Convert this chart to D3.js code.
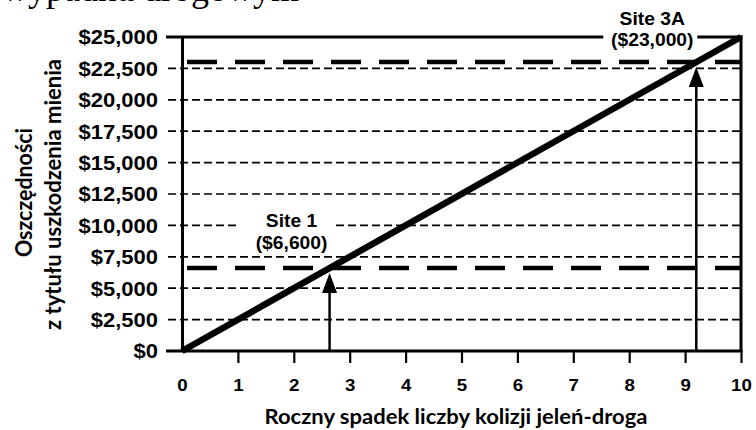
<!DOCTYPE html>
<html><head><meta charset="utf-8">
<script src="https://cdn.jsdelivr.net/npm/d3@7"></script>
<style>body{margin:0;background:#fff}svg{display:block}</style>
</head><body>
<svg id="c" width="756" height="430"></svg>
<script>
// ---- data ----
const collisionTicks = [0,1,2,3,4,5,6,7,8,9,10];
const savingsTicks = [0,2500,5000,7500,10000,12500,15000,17500,20000,22500,25000];
const savingsLineX = [0,10];
const savingsLineY = [0,25000];
const siteNames = ["Site 1","Site 3A"];
const siteLabels = ["($6,600)","($23,000)"];
const siteCollisions = [2.64, 9.2];
const siteSavings = [6600, 23000];
const xTitle = "Roczny spadek liczby kolizji jeleń-droga";
const yTitle = ["Oszczędności","z tytułu uszkodzenia mienia"];
const headerText = "wypadku drogowym";

// ---- layout ----
const svg = d3.select("#c");
const x = d3.scaleLinear().domain([0,10]).range([182,741]);
const y = d3.scaleLinear().domain([0,25000]).range([351,37]);
const SANS = "'Liberation Sans', Arial, Helvetica, sans-serif";
const TITLE = "Lato, 'Open Sans', sans-serif";
function stretch(sel,k){sel.each(function(){const w=this.getComputedTextLength();this.setAttribute("textLength",w*k);this.setAttribute("lengthAdjust","spacingAndGlyphs");});}

// header fragment (cut off at top)
svg.append("text").attr("x",2).attr("y",0.5)
  .attr("font-family","'Liberation Serif','Times New Roman',serif").attr("font-size",36).attr("fill","#000")
  .text(headerText);

// thin dashed gridlines
svg.append("g").selectAll("line").data(savingsTicks.filter(v=>v>0&&v<25000)).join("line")
  .attr("x1",168).attr("x2",x(10)).attr("y1",d=>y(d)).attr("y2",d=>y(d))
  .attr("stroke","#000").attr("stroke-width",1.7).attr("stroke-dasharray","8,4");
// solid top / bottom lines
svg.append("g").selectAll("line").data([savingsTicks[0],savingsTicks[savingsTicks.length-1]]).join("line")
  .attr("x1",166).attr("x2",x(10)+1.5).attr("y1",d=>y(d)).attr("y2",d=>y(d))
  .attr("stroke","#000").attr("stroke-width",3);
// right border
svg.append("line").attr("x1",x(10)).attr("x2",x(10)).attr("y1",y(25000)-1.5).attr("y2",y(0))
  .attr("stroke","#000").attr("stroke-width",3);

// thick dashed site levels
svg.append("g").selectAll("line").data(siteSavings).join("line")
  .attr("x1",x(0)+5).attr("x2",x(10)).attr("y1",d=>y(d)).attr("y2",d=>y(d))
  .attr("stroke","#000").attr("stroke-width",4.5).attr("stroke-dasharray","30,18");

// savings line
const pts = savingsLineX.map((v,i)=>[v,savingsLineY[i]]);
svg.append("path").datum(pts)
  .attr("d",d3.line().x(d=>x(d[0])).y(d=>y(d[1])))
  .attr("fill","none").attr("stroke","#000").attr("stroke-width",6.5);

// arrows
siteCollisions.forEach((c,i)=>{
  const ax=x(c), tip=y(siteSavings[i])+5;
  svg.append("line").attr("x1",ax).attr("x2",ax).attr("y1",y(0)).attr("y2",tip+18)
    .attr("stroke","#000").attr("stroke-width",2.5);
  svg.append("path").attr("d",`M${ax},${tip}L${ax+7.5},${tip+20}L${ax-7.5},${tip+20}Z`).attr("fill","#000");
});

// y axis
const gy = svg.append("g").attr("transform",`translate(${x(0)},0)`)
  .call(d3.axisLeft(y).tickValues(savingsTicks).tickSize(0).tickPadding(x(0)-158)
    .tickFormat(d=>"$"+d3.format(",")(d)));
gy.select(".domain").attr("stroke","#000").attr("stroke-width",3);
gy.selectAll("text").attr("font-family",SANS).attr("font-weight","bold").attr("font-size",20).attr("dy","0.34em").attr("fill","#000");
stretch(gy.selectAll("text"),1.1);

// x axis
const gx = svg.append("g").attr("transform",`translate(0,${y(0)})`)
  .call(d3.axisBottom(x).tickValues(collisionTicks).tickSize(12).tickSizeOuter(0).tickPadding(16));
gx.select(".domain").remove();
gx.selectAll(".tick line").attr("stroke","#000").attr("stroke-width",2.2).filter(d=>d===0).remove();
gx.selectAll("text").attr("font-family",SANS).attr("font-weight","bold").attr("font-size",17).attr("fill","#000");
stretch(gx.selectAll("text"),1.1);

// site labels
const labelLayout = [{dx:-38, y1:-41, y2:-19, box:[-90,-57,5,-14]}, {dx:-44, y1:-37, y2:-16, box:[-93,-33,1,-11]}];
siteNames.forEach((n,i)=>{
  const ax=x(siteCollisions[i]), ay=y(siteSavings[i]), L=labelLayout[i];
  svg.append("rect").attr("x",ax+L.box[0]).attr("y",ay+L.box[1]).attr("width",L.box[2]-L.box[0]).attr("height",L.box[3]-L.box[1]).attr("fill","#fff");
  const t1=svg.append("text").attr("x",ax+L.dx).attr("y",ay+L.y1).attr("text-anchor","middle")
    .attr("font-family",SANS).attr("font-weight","bold").attr("font-size",18).text(n);
  const t2=svg.append("text").attr("x",ax+L.dx).attr("y",ay+L.y2).attr("text-anchor","middle")
    .attr("font-family",SANS).attr("font-weight","bold").attr("font-size",18).text(siteLabels[i]);
  stretch(t1,1.07); stretch(t2,1.07);
});

// axis titles
svg.append("text").attr("x",456).attr("y",424).attr("text-anchor","middle")
  .attr("font-family",TITLE).attr("font-weight","bold").attr("font-size",20)
  .attr("textLength",383).attr("lengthAdjust","spacingAndGlyphs").text(xTitle);
[[32,192.5,129],[61,194.5,271]].forEach((p,i)=>{
  svg.append("text").attr("transform",`translate(${p[0]},${p[1]}) rotate(-90)`).attr("text-anchor","middle")
    .attr("font-family",TITLE).attr("font-weight","bold").attr("font-size",23)
    .attr("textLength",p[2]).attr("lengthAdjust","spacingAndGlyphs").text(yTitle[i]);
});
</script>
</body></html>
